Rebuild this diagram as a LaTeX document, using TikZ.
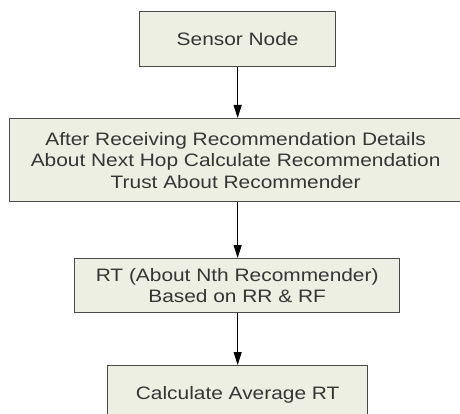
\documentclass[tikz,border=0pt]{standalone}
\usepackage{fontspec}
\setmainfont{Liberation Sans}
\newfontfamily\widesans[FakeStretch=1.16]{Liberation Sans}
\usetikzlibrary{arrows.meta}
\definecolor{boxfill}{HTML}{EEEFE3}
\definecolor{boxline}{HTML}{4A4A4A}
\definecolor{txt}{HTML}{353535}
\tikzset{
  flowbox/.style={draw=boxline, line width=1.3pt, fill=boxfill, text=txt,
    font=\widesans\fontsize{18}{21.5}\selectfont, align=center, inner sep=0pt, anchor=north west},
  flowarrow/.style={draw=black, line width=1pt, -{Triangle[length=13pt,width=8pt]}}
}
\begin{document}
\begin{tikzpicture}[x=1pt,y=-1pt]
\useasboundingbox (0,0) rectangle (460,414);
\fill[white] (0,0) rectangle (460,414);
\clip (0,0) rectangle (460,414);
\node[flowbox, minimum width=196pt, minimum height=55pt] (n1) at (139,11) {Sensor Node};
\node[flowbox, minimum width=452pt, minimum height=83pt] (n2) at (9,118) {After Receiving Recommendation Details\\About Next Hop Calculate Recommendation\\Trust About Recommender};
\node[flowbox, minimum width=325pt, minimum height=54pt] (n3) at (74,258) {RT (About Nth Recommender)\\Based on RR \& RF};
\node[flowbox, minimum width=260pt, minimum height=70pt, text depth=16pt] (n4) at (107,365) {Calculate Average RT};
\draw[flowarrow] (n1.south) -- (n2.north -| n1.south);
\draw[flowarrow] (n2.south -| n1.south) -- (n3.north -| n1.south);
\draw[flowarrow] (n3.south -| n1.south) -- (n4.north -| n1.south);
\end{tikzpicture}
\end{document}
